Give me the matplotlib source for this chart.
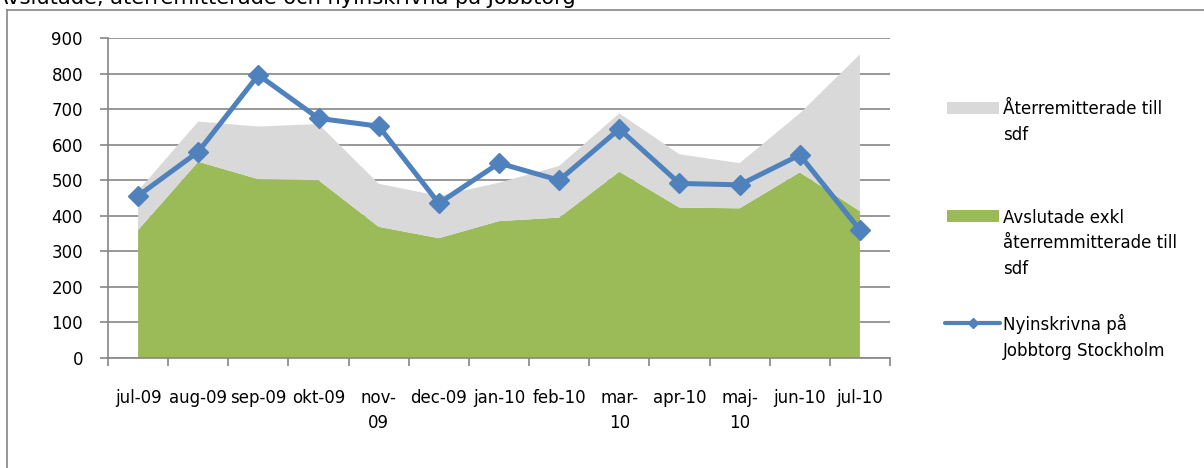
import matplotlib
matplotlib.use("Agg")
import matplotlib.pyplot as plt
import numpy as np
from matplotlib.patches import Rectangle
from matplotlib.lines import Line2D

# ---- data ----
months = ["jul-09", "aug-09", "sep-09", "okt-09", "nov-\n09", "dec-09", "jan-10",
          "feb-10", "mar-\n10", "apr-10", "maj-\n10", "jun-10", "jul-10"]
avslutade = [360, 552, 503, 500, 369, 337, 385, 395, 524, 423, 421, 522, 413]
aterremitterade = [110, 113, 148, 158, 121, 119, 108, 145, 164, 150, 127, 166, 441]
nyinskrivna = [456, 580, 796, 674, 652, 435, 548, 500, 644, 491, 487, 571, 360]

label_ater = "Återremitterade till\nsdf"
label_avsl = "Avslutade exkl\nåterremmitterade till\nsdf"
label_ny = "Nyinskrivna på\nJobbtorg Stockholm"
title = "Avslutade, återremitterade och nyinskrivna på Jobbtorg"

GREEN = "#9BBB59"
GRAY = "#D9D9D9"
BLUE = "#4F81BD"
AXIS = "#868686"

plt.rcParams["font.family"] = ["DejaVu Sans"]

W, H = 1204, 468
fig = plt.figure(figsize=(W / 100, H / 100), dpi=100)

def fx(px):
    return px / W

def fy(py):
    return 1 - py / H

ax = fig.add_axes([fx(108), fy(358), fx(890) - fx(108), fy(38) - fy(358)])

x = np.arange(len(months))
ax.stackplot(x, avslutade, aterremitterade, colors=[GREEN, GRAY], zorder=2)
ax.plot(x, nyinskrivna, color=BLUE, lw=3.6, marker="D", markersize=10,
        markerfacecolor=BLUE, markeredgecolor=BLUE, zorder=3)

ax.set_xlim(-0.5, len(months) - 0.5)
ax.set_ylim(0, 900)
ax.set_yticks(np.arange(0, 901, 100))
ax.yaxis.grid(True, color=AXIS, lw=1.2, zorder=0)
ax.set_axisbelow(True)

fs = 12
ax.set_xticks(np.arange(-0.5, len(months), 1.0))
ax.set_xticklabels([])
ax.set_xticks(x, minor=True)
ax.set_xticklabels(months, minor=True, fontsize=fs, linespacing=1.52)
ax.tick_params(axis="x", which="major", direction="out", length=6, color=AXIS, width=1.2)
ax.tick_params(axis="x", which="minor", length=0, pad=22)
ax.tick_params(axis="y", direction="out", length=6, color=AXIS, width=1.2, labelsize=fs, pad=12)

for s in ["top", "right"]:
    ax.spines[s].set_visible(False)
for s in ["left", "bottom"]:
    ax.spines[s].set_color(AXIS)
    ax.spines[s].set_linewidth(1.2)

# chart border (partially cropped)
fig.add_artist(Line2D([fx(7), 1.0], [fy(10), fy(10)], color=AXIS, lw=1.2))
fig.add_artist(Line2D([fx(7), fx(7)], [fy(10), 0.0], color=AXIS, lw=1.2))

# title, mostly cropped at the top
fig.text(fx(-6), fy(4), title, fontsize=15.1, va="baseline", ha="left")

# legend (manual); va='baseline' aligns the last line of multi-line text
ls = 1.55
step = 26
fig.add_artist(Rectangle((fx(947), fy(113.5)), fx(999) - fx(947), fy(102) - fy(113.5),
                         color=GRAY, lw=0))
fig.text(fx(1003), fy(114 + step), label_ater, fontsize=fs, va="baseline", ha="left",
         linespacing=ls)
fig.add_artist(Rectangle((fx(947), fy(221.5)), fx(999) - fx(947), fy(210) - fy(221.5),
                         color=GREEN, lw=0))
fig.text(fx(1003), fy(222 + 2 * step), label_avsl, fontsize=fs, va="baseline", ha="left",
         linespacing=ls)
fig.add_artist(Line2D([fx(945), fx(1000)], [fy(322.5), fy(322.5)], color=BLUE, lw=3.0,
                      solid_capstyle="round"))
fig.add_artist(Line2D([fx(972.5)], [fy(322.5)], color=BLUE, marker="D", markersize=5.5, lw=0))
fig.text(fx(1003), fy(330 + step), label_ny, fontsize=fs, va="baseline", ha="left",
         linespacing=ls)

fig.savefig("out.png", dpi=100)
